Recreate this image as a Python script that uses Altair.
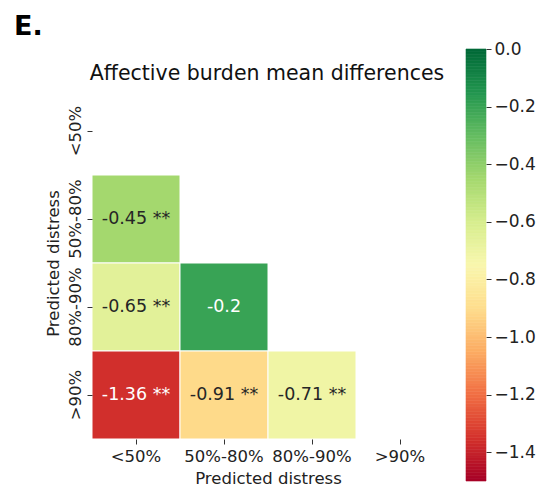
import altair as alt
import numpy as np
import pandas as pd

# Distress groups, in axis order
groups = ["<50%", "50%-80%", "80%-90%", ">90%"]

# Lower-triangle cells: row group, column group, mean difference, significance
row_group = ["50%-80%", "80%-90%", "80%-90%", ">90%", ">90%", ">90%"]
col_group = ["<50%", "<50%", "50%-80%", "<50%", "50%-80%", "80%-90%"]
mean_diff = [-0.45, -0.65, -0.2, -1.36, -0.91, -0.71]
signif = ["**", "**", "", "**", "**", "**"]

# Colour scale limits and colorbar ticks
vmin, vmax = -1.5, 0.0
cbar_ticks = [0.0, -0.2, -0.4, -0.6, -0.8, -1.0, -1.2, -1.4]

cells = pd.DataFrame({
    "row": row_group,
    "col": col_group,
    "value": mean_diff,
    "label": [f"{v:g} {s}".strip() for v, s in zip(mean_diff, signif)],
})

# Colorbar swatches spanning the colour scale
edges = np.linspace(vmin, vmax, 151)
cbar = pd.DataFrame({"lo": edges[:-1], "hi": edges[1:]})
cbar["mid"] = (cbar["lo"] + cbar["hi"]) / 2

FONT = "DejaVu Sans"
INK = "#222222"
LABEL_SIZE = 16.5
color_scale = alt.Scale(scheme="redyellowgreen", domain=[vmin, vmax])

x_enc = alt.X("col:N", sort=groups, scale=alt.Scale(domain=groups, paddingInner=0, paddingOuter=0),
              axis=alt.Axis(title="Predicted distress", labelAngle=0, domain=False, ticks=True,
                            tickSize=5, tickColor="#333", labelFontSize=LABEL_SIZE,
                            titleFontSize=LABEL_SIZE, titleFontWeight="normal", labelPadding=4,
                            titlePadding=6, labelColor=INK, titleColor=INK))
y_enc = alt.Y("row:N", sort=groups, scale=alt.Scale(domain=groups, paddingInner=0, paddingOuter=0),
              axis=alt.Axis(title="Predicted distress", labelAngle=270, labelAlign="center",
                            labelBaseline="bottom", domain=False, ticks=True, tickSize=5,
                            tickColor="#333", labelFontSize=LABEL_SIZE, titleFontSize=LABEL_SIZE,
                            titleFontWeight="normal", labelPadding=4, titlePadding=6,
                            labelColor=INK, titleColor=INK))

heat = alt.Chart(cells).mark_rect(stroke="white", strokeWidth=1).encode(
    x=x_enc,
    y=y_enc,
    color=alt.Color("value:Q", scale=color_scale, legend=None),
)

text = alt.Chart(cells).mark_text(font=FONT, fontSize=17.5).encode(
    x=alt.X("col:N", sort=groups),
    y=alt.Y("row:N", sort=groups),
    text="label:N",
    color=alt.condition("datum.value < -1.2 || datum.value > -0.3",
                        alt.value("white"), alt.value("#262626")),
)

heatmap = alt.layer(heat, text)

colorbar = alt.Chart(cbar).mark_rect(strokeWidth=0.6).encode(
    x=alt.value(374),
    x2=alt.value(394),
    y=alt.Y("lo:Q", scale=alt.Scale(domain=[vmin, vmax], range=[394, -38], nice=False, zero=False),
            axis=alt.Axis(orient="right", offset=42, title=None, values=cbar_ticks, format=".1f",
                          domain=False, grid=False, tickSize=5, tickColor="#333",
                          labelFontSize=17, labelPadding=3, labelColor=INK)),
    y2="hi:Q",
    color=alt.Color("mid:Q", scale=color_scale, legend=None),
    stroke=alt.Color("mid:Q", scale=color_scale, legend=None),
)

title = alt.Chart(pd.DataFrame({"t": ["Affective burden mean differences"]})).mark_text(
    font=FONT, fontSize=20.5, align="center", baseline="alphabetic", color="#111"
).encode(x=alt.value(175), y=alt.value(-7), text="t:N")

panel_tag = alt.Chart(pd.DataFrame({"t": ["E."]})).mark_text(
    font=FONT, fontSize=27, fontWeight="bold", align="left", baseline="alphabetic", color="black"
).encode(x=alt.value(-78), y=alt.value(-52), text="t:N")

chart = alt.layer(heatmap, colorbar, title, panel_tag).resolve_scale(
    y="independent"
).properties(
    width=352,
    height=352,
    autosize=alt.AutoSizeParams(type="none"),
    padding={"left": 92, "top": 87, "right": 103, "bottom": 51},
).configure_view(stroke=None).configure_axis(labelFont=FONT, titleFont=FONT)

chart.save("out.html", embed_options={"renderer": "svg", "actions": False})
